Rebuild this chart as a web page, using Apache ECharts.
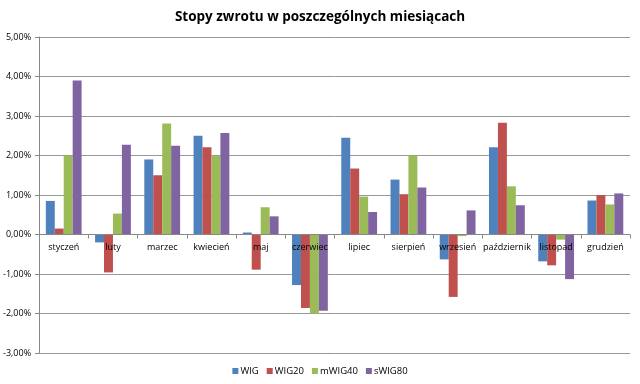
<!DOCTYPE html>
<html><head><meta charset="utf-8">
<script src="https://cdn.jsdelivr.net/npm/echarts@6/dist/echarts.min.js"></script>
<style>html,body{margin:0;padding:0;background:#fff}#c{width:640px;height:384px}</style>
</head><body><div id="c"></div>
<script>
const categories = ['styczeń','luty','marzec','kwiecień','maj','czerwiec','lipiec','sierpień','wrzesień','październik','listopad','grudzień'];
const seriesNames = ['WIG','WIG20','mWIG40','sWIG80'];
const wig    = [0.85, -0.20, 1.90, 2.50, 0.05, -1.28, 2.45, 1.39, -0.63, 2.21, -0.68, 0.86];
const wig20  = [0.15, -0.96, 1.50, 2.21, -0.89, -1.86, 1.67, 1.02, -1.58, 2.83, -0.78, 1.00];
const mwig40 = [2.00, 0.53, 2.81, 2.00, 0.69, -2.00, 0.96, 2.00, -0.04, 1.22, -0.13, 0.76];
const swig80 = [3.90, 2.27, 2.25, 2.57, 0.46, -1.93, 0.57, 1.19, 0.61, 0.74, -1.13, 1.04];
const yMin = -3, yMax = 5, yStep = 1;
const colors = ['#4F81BD','#C0504D','#9BBB59','#8064A2'];
const allData = [wig, wig20, mwig40, swig80];

const W = 640, H = 384, gTop = 37, gBottom = 31;
const plotH = H - gTop - gBottom;
const zeroOffset = -plotH * (0 - yMin) / (yMax - yMin);

const chart = echarts.init(document.getElementById('c'), null, {renderer:'canvas'});
const font = '"Open Sans", "DejaVu Sans", sans-serif';
chart.setOption({
  animation:false,
  title:{text:'Stopy zwrotu w poszczególnych miesiącach', left:'center', top:5,
    textStyle:{fontFamily:font, fontSize:13.5, fontWeight:'bold', color:'#000'}},
  legend:{bottom:3, left:'center', itemWidth:6, itemHeight:6, itemGap:8, icon:'rect',
    textStyle:{fontFamily:font, fontSize:9.5, color:'#000', padding:[0,0,0,-3]}},
  grid:{left:35, right:10, top:gTop, bottom:gBottom, containLabel:false},
  xAxis:{type:'category', data:categories, z:10, offset:zeroOffset,
    axisLine:{onZero:false, lineStyle:{color:'#888'}},
    axisTick:{show:true, interval:0, length:4, lineStyle:{color:'#888'}},
    axisLabel:{interval:0, fontFamily:font, fontSize:9, color:'#000', margin:8},
    splitLine:{show:false}},
  yAxis:{type:'value', min:yMin, max:yMax, interval:yStep,
    axisLine:{show:true, lineStyle:{color:'#888'}},
    axisTick:{show:true, length:4, lineStyle:{color:'#888'}},
    axisLabel:{fontFamily:font, fontSize:9, color:'#000', margin:8,
      formatter:v=>v.toFixed(2).replace('.',',')+'%'},
    splitLine:{show:true, lineStyle:{color:'#999', width:1}}},
  series: seriesNames.map((n,i)=>({name:n, type:'bar', data:allData[i],
    itemStyle:{color:colors[i]}, barGap:'0%', barCategoryGap:'27.3%'}))
});
</script></body></html>
